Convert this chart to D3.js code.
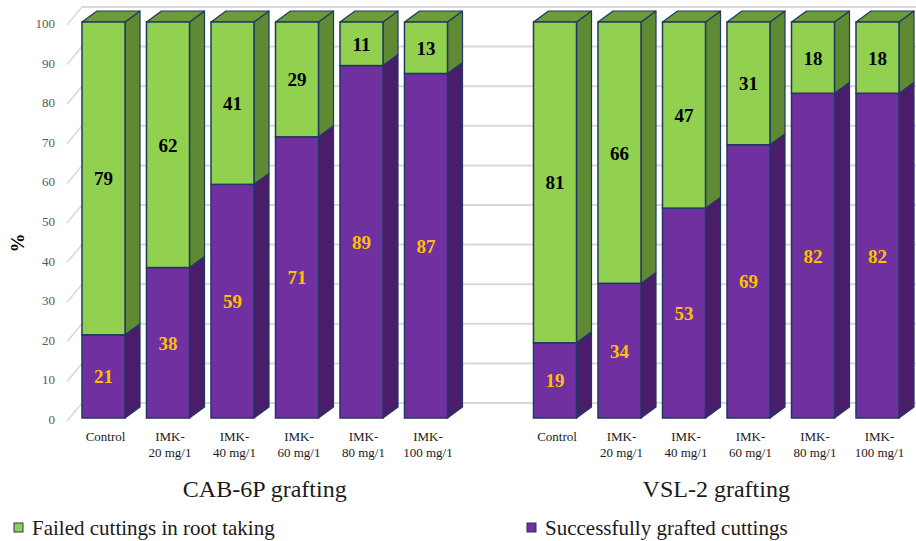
<!DOCTYPE html>
<html>
<head>
<meta charset="utf-8">
<script src="https://cdn.jsdelivr.net/npm/d3@7"></script>
<style>
  body { margin: 0; background: #fff; }
  svg, svg text { font-family: "Liberation Serif", "DejaVu Serif", Tinos, "Times New Roman", serif; }
</style>
</head>
<body>
<svg id="chart" width="916" height="541"></svg>
<script>
// data
const groups = ['CAB-6P grafting', 'VSL-2 grafting'];
const treatments = ['Control', 'IMK-\n20 mg/1', 'IMK-\n40 mg/1', 'IMK-\n60 mg/1', 'IMK-\n80 mg/1', 'IMK-\n100 mg/1'];
const cabSuccess = [21, 38, 59, 71, 89, 87];
const cabFailed = [79, 62, 41, 29, 11, 13];
const vslSuccess = [19, 34, 53, 69, 82, 82];
const vslFailed = [81, 66, 47, 31, 18, 18];
const yTicks = [0, 10, 20, 30, 40, 50, 60, 70, 80, 90, 100];
const seriesNames = ['Failed cuttings in root taking', 'Successfully grafted cuttings'];

// build the slot list (one empty slot between the groups)
const slots = [];
treatments.forEach((t, i) => slots.push({ key: 'a' + i, label: t, success: cabSuccess[i], failed: cabFailed[i] }));
slots.push({ key: 'gap', label: null });
treatments.forEach((t, i) => slots.push({ key: 'b' + i, label: t, success: vslSuccess[i], failed: vslFailed[i] }));
const bars = slots.filter(d => d.label !== null);

const svg = d3.select('#chart')
  .attr('font-family', '"Liberation Serif", "DejaVu Serif", serif');

// 3D depth offsets
const depth = { dx: 15, dy: -11 };
const wall = { dx: 15, dy: -15 };

const x = d3.scaleBand()
  .domain(slots.map(d => d.key))
  .range([71.25, 909.75])
  .paddingInner(0.333)
  .paddingOuter(0.1665);

const y = d3.scaleLinear().domain([0, 100]).range([418, 22]);

const col = {
  green: '#92D050', greenSide: '#5F8A33', greenTop: '#6B9B3A',
  purple: '#7030A0', purpleSide: '#4A1D6B',
  edge: '#1F3864', grid: '#D9D9D9'
};

// gridlines: left wall diagonal + back wall horizontal
const grid = svg.append('g');
const x0 = 67;
grid.selectAll('.diag')
  .data(yTicks)
  .enter()
  .append('line')
  .attr('x1', x0)
  .attr('y1', d => y(d) + 3)
  .attr('x2', x0 + wall.dx)
  .attr('y2', d => y(d) + wall.dy)
  .attr('stroke', col.grid)
  .attr('stroke-width', 1.5);
grid.selectAll('.back')
  .data(yTicks)
  .enter()
  .append('line')
  .attr('x1', x0 + wall.dx)
  .attr('x2', 916)
  .attr('y1', d => y(d) + wall.dy)
  .attr('y2', d => y(d) + wall.dy)
  .attr('stroke', col.grid)
  .attr('stroke-width', 2);

// y axis labels
svg.append('g').selectAll('text')
  .data(yTicks)
  .enter()
  .append('text')
  .attr('x', 55)
  .attr('y', d => y(d) + 6)
  .attr('text-anchor', 'end')
  .attr('font-size', 13)
  .attr('fill', '#595959')
  .text(d => d);

svg.append('text')
  .attr('transform', 'translate(24,243) rotate(-90)')
  .attr('text-anchor', 'middle')
  .attr('font-size', 19)
  .attr('font-weight', 'bold')
  .text('%');

// bars
const barG = svg.append('g').selectAll('g')
  .data(bars)
  .enter()
  .append('g');

function segment(g, d, v0, v1, front, side, top) {
  const xl = x(d.key), xr = xl + x.bandwidth();
  const yb = y(v0), yt = y(v1);
  g.append('path')
    .attr('d', `M${xr},${yb} L${xr + depth.dx},${yb + depth.dy} L${xr + depth.dx},${yt + depth.dy} L${xr},${yt} Z`)
    .attr('fill', side)
    .attr('stroke', col.edge)
    .attr('stroke-width', 1.2)
    .attr('stroke-linejoin', 'round');
  if (top) {
    g.append('path')
      .attr('d', `M${xl},${yt} L${xl + depth.dx},${yt + depth.dy} L${xr + depth.dx},${yt + depth.dy} L${xr},${yt} Z`)
      .attr('fill', top)
      .attr('stroke', col.edge)
      .attr('stroke-width', 1.2)
      .attr('stroke-linejoin', 'round');
  }
  g.append('rect')
    .attr('x', xl)
    .attr('y', yt)
    .attr('width', x.bandwidth())
    .attr('height', yb - yt)
    .attr('fill', front)
    .attr('stroke', col.edge)
    .attr('stroke-width', 1.5);
}

barG.each(function(d) {
  const g = d3.select(this);
  segment(g, d, 0, d.success, col.purple, col.purpleSide, null);
  segment(g, d, d.success, d.success + d.failed, col.green, col.greenSide, col.greenTop);
});

// value labels
barG.append('text')
  .attr('x', d => x(d.key) + x.bandwidth() / 2)
  .attr('y', d => y(d.success / 2) + 7)
  .attr('text-anchor', 'middle')
  .attr('font-size', 19)
  .attr('font-weight', 'bold')
  .attr('fill', '#FFC000')
  .text(d => d.success);

barG.append('text')
  .attr('x', d => x(d.key) + x.bandwidth() / 2)
  .attr('y', d => y(d.success + d.failed / 2) + 7)
  .attr('text-anchor', 'middle')
  .attr('font-size', 19)
  .attr('font-weight', 'bold')
  .attr('fill', '#000')
  .text(d => d.failed);

// category labels
const catG = svg.append('g').selectAll('text')
  .data(bars)
  .enter()
  .append('text')
  .attr('text-anchor', 'middle')
  .attr('font-size', 13)
  .attr('fill', '#1a1a1a');
catG.selectAll('tspan')
  .data(d => d.label.split('\n').map(s => ({ s, cx: x(d.key) + x.bandwidth() / 2 + 2 })))
  .enter()
  .append('tspan')
  .attr('x', d => d.cx)
  .attr('y', (d, i) => 441 + i * 16)
  .text(d => d.s);

// group titles
const groupCenters = [
  (x('a0') + x('a5') + x.bandwidth()) / 2,
  (x('b0') + x('b5') + x.bandwidth()) / 2
];
svg.append('g').selectAll('text')
  .data(groups)
  .enter()
  .append('text')
  .attr('x', (d, i) => groupCenters[i])
  .attr('y', 497)
  .attr('text-anchor', 'middle')
  .attr('font-size', 24)
  .attr('fill', '#1a1a1a')
  .text(d => d);

// legend
const legendX = [14, 527];
const legendCol = [col.green, col.purple];
const leg = svg.append('g').selectAll('g')
  .data(seriesNames)
  .enter()
  .append('g')
  .attr('transform', (d, i) => `translate(${legendX[i]},523)`);
leg.append('rect')
  .attr('width', 9)
  .attr('height', 9)
  .attr('fill', (d, i) => legendCol[i])
  .attr('stroke', col.edge)
  .attr('stroke-width', 1);
leg.append('text')
  .attr('x', 18)
  .attr('y', 12)
  .attr('font-size', 21)
  .attr('fill', '#1a1a1a')
  .text(d => d);
</script>
</body>
</html>
